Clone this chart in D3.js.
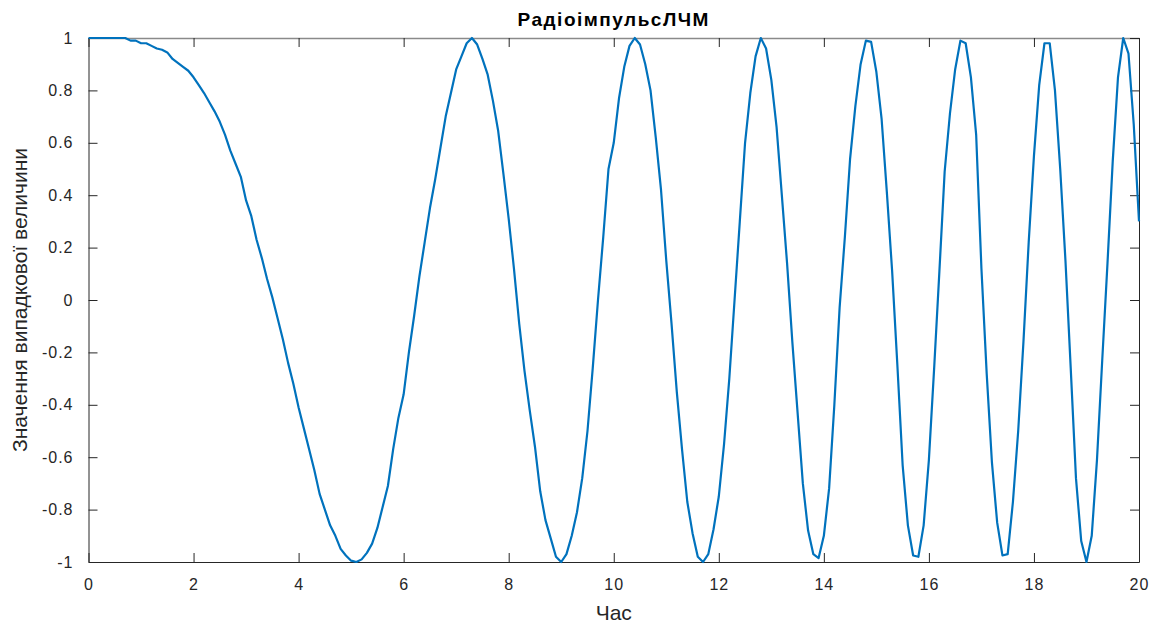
<!DOCTYPE html>
<html>
<head>
<meta charset="utf-8">
<script src="https://cdn.jsdelivr.net/npm/d3@7"></script>
<style>
  body { margin: 0; background: #fff; }
  svg { display: block; }
  .tick text { font-family: "Liberation Sans", Arial, sans-serif; font-size: 16px; letter-spacing: 1px; fill: #262626; }
</style>
</head>
<body>
<div></div>
<script>
// sample times, step 0.1 from 0 to 20
var times = d3.range(0, 201).map(function(i) { return +(i / 10).toFixed(1); });

// signal values, one per time sample
var values = [
  1, 1, 1, 1, 1, 1, 1, 1, 0.99, 0.99,
  0.98, 0.98, 0.97, 0.96, 0.955, 0.945, 0.92, 0.905, 0.89, 0.875,
  0.85, 0.82, 0.79, 0.755, 0.72, 0.68, 0.63, 0.57, 0.52, 0.47,
  0.38, 0.32, 0.23, 0.16, 0.08, 0.01, -0.07, -0.15, -0.24, -0.32,
  -0.41, -0.49, -0.57, -0.65, -0.74, -0.80, -0.86, -0.90, -0.95, -0.975,
  -0.995, -1, -0.99, -0.965, -0.93, -0.87, -0.79, -0.71, -0.57, -0.45,
  -0.36, -0.20, -0.06, 0.09, 0.22, 0.35, 0.46, 0.58, 0.70, 0.79,
  0.88, 0.93, 0.98, 1.0, 0.975, 0.92, 0.86, 0.76, 0.645, 0.48,
  0.31, 0.12, -0.09, -0.27, -0.42, -0.56, -0.73, -0.84, -0.91, -0.98,
  -1.0, -0.97, -0.90, -0.81, -0.68, -0.50, -0.26, 0.00, 0.24, 0.50,
  0.60, 0.77, 0.89, 0.97, 1.0, 0.975, 0.90, 0.80, 0.62, 0.42,
  0.15, -0.09, -0.35, -0.57, -0.77, -0.89, -0.98, -1.0, -0.97, -0.875,
  -0.75, -0.55, -0.30, 0.00, 0.30, 0.60, 0.79, 0.93, 1.0, 0.96,
  0.84, 0.66, 0.40, 0.14, -0.16, -0.43, -0.70, -0.88, -0.97, -0.985,
  -0.90, -0.72, -0.40, -0.03, 0.24, 0.54, 0.74, 0.90, 0.99, 0.985,
  0.87, 0.69, 0.41, 0.11, -0.25, -0.63, -0.86, -0.975, -0.98, -0.86,
  -0.61, -0.26, 0.11, 0.49, 0.71, 0.88, 0.99, 0.98, 0.85, 0.63,
  0.12, -0.28, -0.62, -0.85, -0.975, -0.97, -0.77, -0.50, -0.16, 0.22,
  0.55, 0.82, 0.98, 0.98, 0.80, 0.50, 0.15, -0.26, -0.68, -0.92,
  -1.0, -0.90, -0.61, -0.23, 0.14, 0.53, 0.85, 1.0, 0.94, 0.67,
  0.30
];

var xTicks = [0, 2, 4, 6, 8, 10, 12, 14, 16, 18, 20];
var yTicks = [-1, -0.8, -0.6, -0.4, -0.2, 0, 0.2, 0.4, 0.6, 0.8, 1];

var titleText = "РадіоімпульсЛЧМ";
var xLabel = "Час";
var yLabel = "Значення випадкової величини";

var W = 1158, H = 625;
var margin = {top: 38, right: 19, bottom: 63, left: 88.5},
    width = W - margin.left - margin.right,
    height = H - margin.top - margin.bottom;

var x = d3.scaleLinear().domain([0, 20]).range([0, width]);
var y = d3.scaleLinear().domain([-1, 1]).range([height, 0]);

var svg = d3.select("body").select("div").append("svg")
    .attr("width", W)
    .attr("height", H)
  .append("g")
    .attr("transform", "translate(" + margin.left + "," + margin.top + ")");

var fmt = function(d) { return d === 0 ? "0" : String(d); };

// bottom axis, ticks pointing in
var gx = svg.append("g")
    .attr("transform", "translate(0," + height + ")")
    .call(d3.axisBottom(x).tickValues(xTicks).tickSizeInner(-9).tickSizeOuter(0).tickPadding(17).tickFormat(fmt));

// top axis, ticks only
var gt = svg.append("g")
    .call(d3.axisTop(x).tickValues(xTicks).tickSizeInner(-9).tickSizeOuter(0).tickFormat(""));

// left axis
var gy = svg.append("g")
    .call(d3.axisLeft(y).tickValues(yTicks).tickSizeInner(-9).tickSizeOuter(0).tickPadding(15).tickFormat(fmt));

// right axis, ticks only
var gr = svg.append("g")
    .attr("transform", "translate(" + width + ",0)")
    .call(d3.axisRight(y).tickValues(yTicks).tickSizeInner(-9).tickSizeOuter(0).tickFormat(""));

[gx, gt, gy, gr].forEach(function(g) {
  g.selectAll(".domain").attr("stroke", "#262626").attr("stroke-width", 1);
  g.selectAll(".tick line").attr("stroke", "#262626").attr("stroke-width", 1);
});
gt.select(".domain").attr("stroke", "#8a8a8a").attr("stroke-width", 1.5);

// the signal
var line = d3.line()
    .x(function(d, i) { return x(times[i]); })
    .y(function(d) { return y(d); });

svg.append("path")
    .datum(values)
    .attr("fill", "none")
    .attr("stroke", "#0072BD")
    .attr("stroke-width", 2.2)
    .attr("stroke-linejoin", "round")
    .attr("d", line);

// title and axis labels
svg.append("text")
    .text(titleText)
    .attr("x", width / 2)
    .attr("y", -12)
    .attr("text-anchor", "middle")
    .style("font-family", "\"Liberation Sans\", Arial, sans-serif")
    .style("font-size", "19px")
    .style("font-weight", 700)
    .style("letter-spacing", "1.5px")
    .style("fill", "#000");

svg.append("text")
    .text(xLabel)
    .attr("x", width / 2)
    .attr("y", height + 58)
    .attr("text-anchor", "middle")
    .style("font-family", "\"Liberation Sans\", Arial, sans-serif")
    .style("font-size", "21px")
    .style("fill", "#262626");

svg.append("text")
    .text(yLabel)
    .attr("transform", "rotate(-90)")
    .attr("x", -height / 2)
    .attr("y", -62)
    .attr("text-anchor", "middle")
    .style("font-family", "\"Liberation Sans\", Arial, sans-serif")
    .style("font-size", "21px")
    .style("fill", "#262626");
</script>
</body>
</html>
